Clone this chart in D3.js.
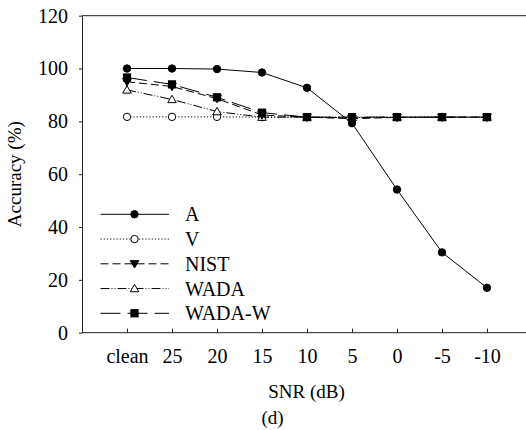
<!DOCTYPE html>
<html><head><meta charset="utf-8">
<script src="https://cdn.jsdelivr.net/npm/d3@7"></script>
<style>body{margin:0;background:#fff}svg{display:block}</style>
</head><body><svg id="c" width="526" height="430" font-family="Liberation Serif"></svg>
<script>
const categories = ["clean","25","20","15","10","5","0","-5","-10"];
const A      = [100, 100, 99.8, 98.5, 92.7, 79.3, 54.2, 30.4, 17.0];
const V      = [81.7, 81.7, 81.7, 81.6, 81.6, 81.6, 81.6, 81.6, 81.6];
const NIST   = [95.0, 93.2, 88.6, 82.4, 81.6, 81.0, 81.5, 81.6, 81.6];
const WADA   = [91.9, 88.3, 83.7, 81.6, 81.6, 81.4, 81.6, 81.6, 81.6];
const WADA_W = [96.6, 94.0, 89.1, 83.3, 81.6, 81.6, 81.6, 81.6, 81.6];
const yTicks = [0, 20, 40, 60, 80, 100, 120];

const FONT = "Liberation Serif";
const series = [
  {name:"V", values:V, dash:"1.2,2", marker:"circle", fill:"#fff"},
  {name:"WADA", values:WADA, dash:"9,2,1,2,1,2", marker:"triangle", fill:"#fff"},
  {name:"NIST", values:NIST, dash:"8,4", marker:"triangleDown", fill:"#000"},
  {name:"WADA-W", values:WADA_W, dash:"20,7", marker:"square", fill:"#000"},
  {name:"A", values:A, dash:null, marker:"circle", fill:"#000"}
];
const legendOrder = ["A","V","NIST","WADA","WADA-W"];

const svg = d3.select("#c");
const x = d3.scaleLinear().domain([-1, 9]).range([82, 532]);
const y = d3.scaleLinear().domain([0, 120]).range([332.7, 15.7]);

svg.append("line").attr("x1", x(-1)).attr("x2", x(9)).attr("y1", y(120)).attr("y2", y(120))
  .attr("stroke", "#222").attr("stroke-width", 1);

const ya = svg.append("g").attr("transform", `translate(${x(-1)},0)`)
  .call(d3.axisLeft(y).tickValues(yTicks).tickSizeInner(3).tickSizeOuter(0).tickPadding(11));
ya.attr("font-family", FONT).attr("font-size", 20);
ya.select(".domain").attr("stroke", "#222");
ya.selectAll(".tick line").attr("stroke", "#222");
ya.selectAll(".tick text").attr("fill", "#000");

const xa = svg.append("g").attr("transform", `translate(0,${y(0)})`)
  .call(d3.axisBottom(x).tickValues(d3.range(categories.length))
    .tickFormat(i => categories[i]).tickSizeInner(-4).tickSizeOuter(0));
xa.attr("font-family", FONT).attr("font-size", 20);
xa.select(".domain").attr("d", `M${x(-1)},0H${x(9)}`).attr("stroke", "#222");
xa.selectAll(".tick line").attr("stroke", "#222");
xa.selectAll(".tick text").attr("fill", "#000").attr("y", 30.5).attr("dy", 0);

function label(t) { return t.attr("font-family", FONT).attr("fill", "#000"); }
label(svg.append("text").attr("x", 306.5).attr("y", 397.5).attr("text-anchor", "middle")
  .attr("font-size", 19).text("SNR (dB)"));
label(svg.append("text").attr("x", 272.5).attr("y", 424).attr("text-anchor", "middle")
  .attr("font-size", 19).text("(d)"));
label(svg.append("text").attr("transform", `translate(21,${(y(0)+y(120))/2}) rotate(-90)`)
  .attr("text-anchor", "middle").attr("font-size", 19).text("Accuracy (%)"));

function drawMarker(g, type, fill, cx, cy) {
  const st = s => s.attr("fill", fill).attr("stroke", "#000").attr("stroke-width", 1);
  if (type === "circle") st(g.append("circle").attr("cx", cx).attr("cy", cy).attr("r", 3.7));
  else if (type === "square") st(g.append("rect").attr("x", cx-3.6).attr("y", cy-3.6).attr("width", 7.2).attr("height", 7.2));
  else if (type === "triangle") st(g.append("path").attr("d", `M${cx},${cy-4.2}L${cx+4.3},${cy+3.2}L${cx-4.3},${cy+3.2}Z`));
  else if (type === "triangleDown") st(g.append("path").attr("d", `M${cx},${cy+4.2}L${cx+4.3},${cy-3.2}L${cx-4.3},${cy-3.2}Z`));
}

const line = d3.line().x((d, i) => x(i)).y(d => y(d));
series.forEach(s => {
  const g = svg.append("g");
  const p = g.append("path").attr("d", line(s.values)).attr("fill", "none")
    .attr("stroke", "#000").attr("stroke-width", 1);
  if (s.dash) p.attr("stroke-dasharray", s.dash);
  s.values.forEach((v, i) => drawMarker(g, s.marker, s.fill, x(i), y(v)));
});

const lg = svg.append("g");
legendOrder.forEach((n, k) => {
  const s = series.find(d => d.name === n);
  const ly = 214.3 + k * 24.75;
  const l = lg.append("line").attr("x1", 100.5).attr("x2", 169).attr("y1", ly).attr("y2", ly)
    .attr("stroke", "#000").attr("stroke-width", 1);
  if (s.dash) l.attr("stroke-dasharray", s.dash);
  drawMarker(lg, s.marker, s.fill, 134.5, ly);
  label(lg.append("text").attr("x", 185).attr("y", ly).attr("dy", "0.35em").attr("font-size", 20).text(n));
});
</script></body></html>
